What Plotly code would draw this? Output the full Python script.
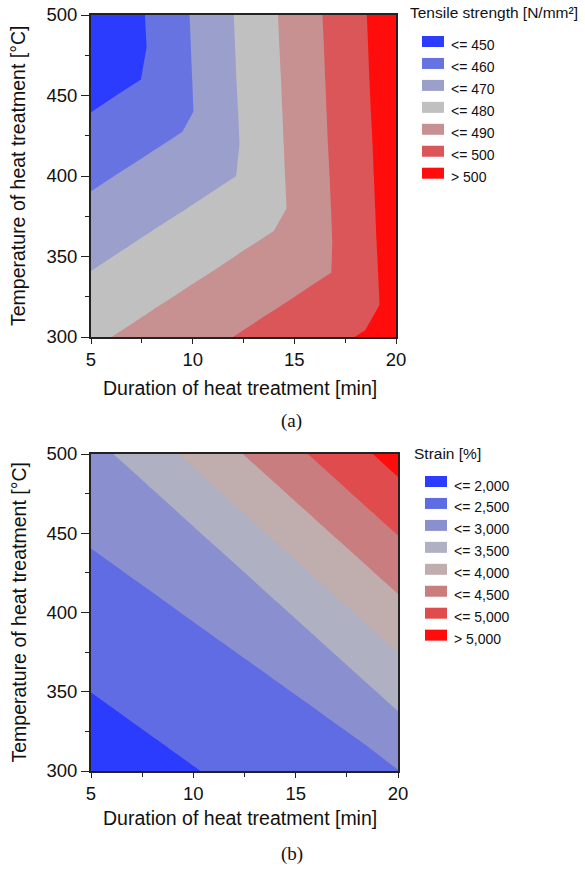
import plotly.graph_objects as go

# ---------------- data ----------------
DURATION_MIN = [5, 6.5, 8, 9.5, 11, 12.5, 14, 15.5, 17, 18.5, 20]
TEMPERATURE_C = [300, 320, 340, 360, 380, 400, 420, 440, 460, 480, 500]

# rows = temperature (300 -> 500), columns = duration (5 -> 20)
TENSILE_STRENGTH = [
    [478.3, 480.8, 483.3, 485.8, 488.3, 490.9, 493.4, 495.9, 498.4, 500.9, 503.4],
    [474.3, 476.8, 479.3, 481.8, 484.3, 486.8, 489.3, 491.8, 494.3, 496.8, 503.7],
    [470.2, 472.7, 475.2, 477.7, 480.2, 482.8, 485.3, 487.8, 490.3, 497.2, 504.0],
    [466.2, 468.7, 471.2, 473.7, 476.2, 478.7, 481.2, 483.7, 490.6, 497.5, 504.4],
    [462.1, 464.6, 467.1, 469.6, 472.1, 474.7, 477.2, 484.0, 490.9, 497.8, 504.7],
    [458.1, 460.6, 463.1, 465.6, 468.1, 470.6, 477.5, 484.4, 491.2, 498.1, 505.0],
    [454.0, 456.5, 459.0, 461.5, 464.0, 470.9, 477.8, 484.7, 491.6, 498.4, 505.3],
    [449.9, 452.5, 455.0, 457.5, 464.4, 471.2, 478.1, 485.0, 491.9, 498.8, 505.6],
    [445.9, 448.4, 450.9, 457.8, 464.7, 471.6, 478.4, 485.3, 492.2, 499.1, 506.0],
    [441.9, 444.4, 451.2, 458.1, 465.0, 471.9, 478.8, 485.6, 492.5, 499.4, 506.3],
    [437.8, 444.7, 451.6, 458.4, 465.3, 472.2, 479.1, 486.0, 492.8, 499.7, 506.6],
]

STRAIN_PCT = [
    [1.728, 1.804, 1.880, 1.957, 2.033, 2.109, 2.185, 2.261, 2.338, 2.414, 2.490],
    [1.838, 1.914, 1.990, 2.067, 2.143, 2.219, 2.295, 2.371, 2.448, 2.524, 2.761],
    [1.948, 2.024, 2.100, 2.177, 2.253, 2.329, 2.405, 2.481, 2.558, 2.794, 3.031],
    [2.058, 2.134, 2.210, 2.287, 2.363, 2.439, 2.515, 2.591, 2.828, 3.065, 3.302],
    [2.168, 2.244, 2.320, 2.397, 2.473, 2.549, 2.625, 2.862, 3.099, 3.335, 3.572],
    [2.278, 2.354, 2.430, 2.507, 2.583, 2.659, 2.896, 3.132, 3.369, 3.606, 3.843],
    [2.388, 2.464, 2.540, 2.617, 2.693, 2.930, 3.166, 3.403, 3.640, 3.876, 4.113],
    [2.498, 2.574, 2.650, 2.727, 2.963, 3.200, 3.437, 3.673, 3.910, 4.147, 4.384],
    [2.608, 2.684, 2.760, 2.997, 3.234, 3.471, 3.707, 3.944, 4.181, 4.417, 4.654],
    [2.718, 2.794, 3.031, 3.268, 3.504, 3.741, 3.978, 4.214, 4.451, 4.688, 4.925],
    [2.828, 3.065, 3.301, 3.538, 3.775, 4.012, 4.248, 4.485, 4.722, 4.958, 5.195],
]

TS_LEVELS = [450, 460, 470, 480, 490, 500]
TS_LABELS = ["<= 450", "<= 460", "<= 470", "<= 480", "<= 490", "<= 500", "> 500"]
TS_COLORS = ["#2b3cff", "#6673e0", "#9a9fcc", "#c0c0c0", "#c79192", "#db5658", "#ff0d0d"]

ST_LEVELS = [2.0, 2.5, 3.0, 3.5, 4.0, 4.5, 5.0]
ST_LABELS = ["<= 2,000", "<= 2,500", "<= 3,000", "<= 3,500", "<= 4,000",
             "<= 4,500", "<= 5,000", "> 5,000"]
ST_COLORS = ["#2b3cff", "#606ce3", "#8a90cf", "#afb0c2", "#c0adae", "#ca7d7f", "#e04c4d", "#ff0d0d"]

X_TICKS = [5, 10, 15, 20]
Y_TICKS = [300, 350, 400, 450, 500]

X_TITLE = "Duration of heat treatment [min]"
Y_TITLE = "Temperature of heat treatment [°C]"
TS_TITLE = "Tensile strength [N/mm²]"
ST_TITLE = "Strain [%]"
CAPTIONS = ["(a)", "(b)"]

# ---------------- layout helpers ----------------
W, H = 585, 869
SANS = "Liberation Sans, Arial, sans-serif"
SERIF = "Liberation Serif, Times New Roman, serif"


def px(x):
    return x / W


def py(y):
    return 1 - y / H


def stepped_scale(colors):
    n = len(colors) - 1
    return [[k / n, c] for k, c in enumerate(colors)]


fig = go.Figure()

panels = [
    dict(z=TENSILE_STRENGTH, levels=TS_LEVELS, colors=TS_COLORS, labels=TS_LABELS,
         title=TS_TITLE, xd=(91, 396), yd=(15, 337), xa="x", ya="y", xt_gap=51,
         leg_title=(408, 13), sw_x=422, sw_top=36, label_x=449, cap=(291, 421)),
    dict(z=STRAIN_PCT, levels=ST_LEVELS, colors=ST_COLORS, labels=ST_LABELS,
         title=ST_TITLE, xd=(91, 398), yd=(454, 771), xa="x2", ya="y2", xt_gap=47,
         leg_title=(412, 453), sw_x=425, sw_top=476, label_x=452, cap=(292, 854)),
]

STEP = 21.95
SW_W, SW_H = 22, 11

for k, p in enumerate(panels):
    lv = p["levels"]
    fig.add_trace(go.Contour(
        x=DURATION_MIN, y=TEMPERATURE_C, z=p["z"],
        xaxis=p["xa"], yaxis=p["ya"],
        autocontour=False,
        contours=dict(start=lv[0], end=lv[-1], size=lv[1] - lv[0],
                      coloring="fill", showlines=False),
        line=dict(width=0, smoothing=0),
        colorscale=stepped_scale(p["colors"]),
        showscale=False, hoverinfo="skip",
    ))

    sfx = "" if k == 0 else "2"
    axis_common = dict(showgrid=False, zeroline=False, showline=True, linecolor="#222",
                       linewidth=2, mirror=True, ticks="outside", tickcolor="#222",
                       automargin=False,
                       tickfont=dict(family=SANS, size=18.5, color="#111"))
    fig.update_layout(**{
        "xaxis" + sfx: dict(axis_common, domain=[px(p["xd"][0]), px(p["xd"][1])],
                           range=[5, 20], tickvals=X_TICKS, ticklen=5, tickwidth=1,
                           minor=dict(tickvals=[7.5, 12.5, 17.5], ticklen=4, ticks="outside",
                                      tickcolor="#222"),
                           anchor="y" + sfx),
        "yaxis" + sfx: dict(axis_common, domain=[py(p["yd"][1]), py(p["yd"][0])],
                           range=[300, 500], tickvals=Y_TICKS, ticklen=8, tickwidth=1,
                           minor=dict(tickvals=[325, 375, 425, 475], ticklen=4, ticks="outside",
                                      tickcolor="#222"),
                           anchor="x" + sfx),
    })

    # axis titles
    fig.add_annotation(text=X_TITLE, xref="paper", yref="paper",
                       x=px(240), y=py(p["yd"][1] + p["xt_gap"]), showarrow=False,
                       xanchor="center", yanchor="middle",
                       font=dict(family=SANS, size=19.5, color="#111"))
    fig.add_annotation(text=Y_TITLE, xref="paper", yref="paper", textangle=-90,
                       x=px(18), y=py((p["yd"][0] + p["yd"][1]) / 2), showarrow=False,
                       xanchor="center", yanchor="middle",
                       font=dict(family=SANS, size=19.5, color="#111"))
    # caption
    fig.add_annotation(text=CAPTIONS[k], xref="paper", yref="paper",
                       x=px(p["cap"][0]), y=py(p["cap"][1]), showarrow=False,
                       xanchor="center", yanchor="middle",
                       font=dict(family=SERIF, size=19, color="#111"))

    # legend block (swatches + labels)
    fig.add_annotation(text=p["title"], xref="paper", yref="paper",
                       x=px(p["leg_title"][0]), y=py(p["leg_title"][1]), showarrow=False,
                       xanchor="left", yanchor="middle",
                       font=dict(family=SANS, size=15.5, color="#111"))
    for i, (lab, col) in enumerate(zip(p["labels"], p["colors"])):
        top = p["sw_top"] + i * STEP
        fig.add_shape(type="rect", xref="paper", yref="paper",
                      x0=px(p["sw_x"]), x1=px(p["sw_x"] + SW_W),
                      y0=py(top + SW_H), y1=py(top),
                      fillcolor=col, line=dict(width=0))
        fig.add_annotation(text=lab.replace("<", "&lt;").replace(">", "&gt;"),
                           xref="paper", yref="paper",
                           x=px(p["label_x"]), y=py(top + SW_H / 2 + 4), showarrow=False,
                           xanchor="left", yanchor="middle",
                           font=dict(family=SANS, size=14, color="#111"))

fig.update_layout(width=W, height=H, margin=dict(l=0, r=0, t=0, b=0, autoexpand=False),
                  paper_bgcolor="white", plot_bgcolor="white", showlegend=False)

fig.write_html("out.html",
               config={"displayModeBar": False, "staticPlot": True},
               post_script="document.body.style.margin='0';"
                           "document.body.style.overflow='hidden';")
